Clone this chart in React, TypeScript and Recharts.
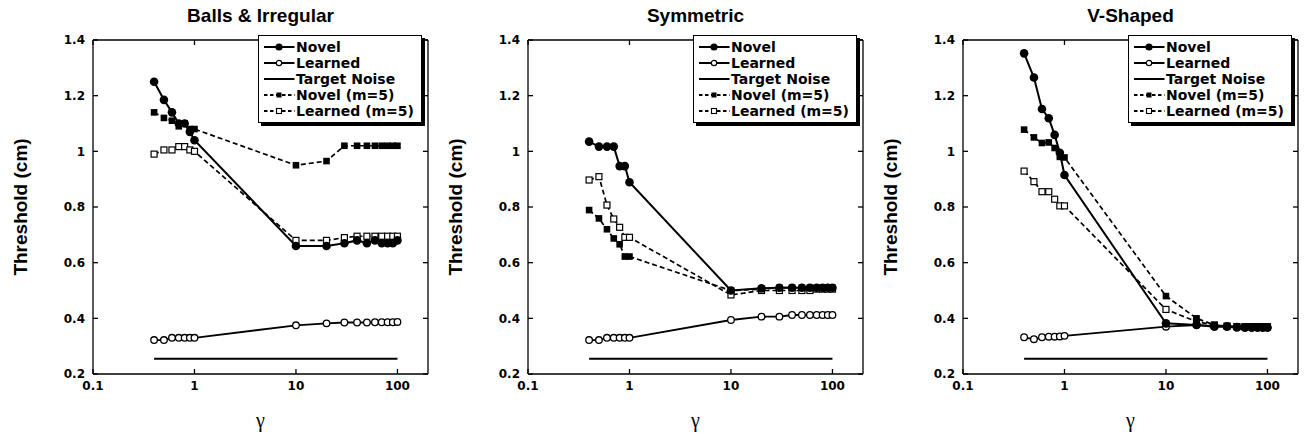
import { LineChart, Line, XAxis, YAxis, Legend } from "recharts"

const FONT = '"Liberation Sans", Arial, Helvetica, sans-serif'
const WIDE = '"DejaVu Sans", Verdana, sans-serif'

// gamma values shared by every panel
const gamma = [0.4, 0.5, 0.6, 0.7, 0.8, 0.9, 1, 10, 20, 30, 40, 50, 60, 70, 80, 90, 100]
const xTicks = [0.1, 1, 10, 100]
const yTicks = [0.2, 0.4, 0.6, 0.8, 1, 1.2, 1.4]
const targetNoise = 0.255

// Balls & Irregular
const ballsNovel = [1.25, 1.185, 1.14, 1.1, 1.1, 1.07, 1.04, 0.66, 0.66, 0.67, 0.68, 0.67, 0.68, 0.67, 0.67, 0.67, 0.68]
const ballsLearned = [0.322, 0.322, 0.33, 0.33, 0.33, 0.33, 0.33, 0.375, 0.382, 0.385, 0.385, 0.385, 0.386, 0.386, 0.386, 0.386, 0.387]
const ballsNovelM5 = [1.14, 1.12, 1.11, 1.09, 1.1, 1.08, 1.08, 0.95, 0.965, 1.02, 1.02, 1.02, 1.02, 1.02, 1.02, 1.02, 1.02]
const ballsLearnedM5 = [0.99, 1.005, 1.005, 1.017, 1.017, 1.005, 1.0, 0.68, 0.68, 0.69, 0.695, 0.695, 0.695, 0.695, 0.695, 0.695, 0.695]

// Symmetric
const symNovel = [1.035, 1.017, 1.017, 1.017, 0.947, 0.947, 0.889, 0.5, 0.508, 0.51, 0.51, 0.51, 0.51, 0.51, 0.51, 0.51, 0.51]
const symLearned = [0.322, 0.322, 0.33, 0.33, 0.33, 0.33, 0.33, 0.394, 0.406, 0.406, 0.412, 0.412, 0.412, 0.412, 0.412, 0.412, 0.412]
const symNovelM5 = [0.789, 0.759, 0.72, 0.687, 0.666, 0.622, 0.622, 0.5, 0.505, 0.51, 0.51, 0.51, 0.51, 0.51, 0.51, 0.51, 0.51]
const symLearnedM5 = [0.897, 0.909, 0.807, 0.757, 0.727, 0.691, 0.691, 0.484, 0.5, 0.5, 0.5, 0.5, 0.5, 0.505, 0.505, 0.505, 0.505]

// V-Shaped
const vNovel = [1.352, 1.265, 1.152, 1.119, 1.059, 0.995, 0.915, 0.382, 0.376, 0.37, 0.37, 0.367, 0.367, 0.367, 0.367, 0.367, 0.367]
const vLearned = [0.332, 0.325, 0.332, 0.334, 0.334, 0.335, 0.337, 0.37, 0.376, 0.372, 0.372, 0.37, 0.366, 0.366, 0.366, 0.366, 0.366]
const vNovelM5 = [1.078, 1.05, 1.03, 1.032, 1.012, 0.98, 0.978, 0.48, 0.4, 0.376, 0.372, 0.37, 0.37, 0.37, 0.37, 0.37, 0.37]
const vLearnedM5 = [0.929, 0.891, 0.855, 0.855, 0.828, 0.804, 0.804, 0.432, 0.388, 0.376, 0.372, 0.37, 0.37, 0.37, 0.37, 0.37, 0.37]

const titles = ["Balls & Irregular", "Symmetric", "V-Shaped"]

function buildRows(novel: number[], learned: number[], novelM5: number[], learnedM5: number[]) {
  return gamma.map((g, i) => ({
    g,
    novel: novel[i],
    learned: learned[i],
    noise: targetNoise,
    novelM5: novelM5[i],
    learnedM5: learnedM5[i],
  }))
}

const panelRows = [
  buildRows(ballsNovel, ballsLearned, ballsNovelM5, ballsLearnedM5),
  buildRows(symNovel, symLearned, symNovelM5, symLearnedM5),
  buildRows(vNovel, vLearned, vNovelM5, vLearnedM5),
]

const filledCircle = (p: any) => <circle key={p.index} cx={p.cx} cy={p.cy} r={4.3} fill="#000" />
const openCircle = (p: any) => (
  <circle key={p.index} cx={p.cx} cy={p.cy} r={3.3} fill="#fff" stroke="#000" strokeWidth={1.3} />
)
const filledSquare = (p: any) => <rect key={p.index} x={p.cx - 3.3} y={p.cy - 3.3} width={6.6} height={6.6} fill="#000" />
const openSquare = (p: any) => (
  <rect key={p.index} x={p.cx - 3} y={p.cy - 3} width={6} height={6} fill="#fff" stroke="#000" strokeWidth={1.2} />
)

const legendItems = [
  { label: "Novel", dash: undefined, marker: "fc" },
  { label: "Learned", dash: undefined, marker: "oc" },
  { label: "Target Noise", dash: undefined, marker: "" },
  { label: "Novel (m=5)", dash: "3.5 2.5", marker: "fs" },
  { label: "Learned (m=5)", dash: "3.5 2.5", marker: "os" },
]

function LegendBox() {
  return (
    <div
      style={{
        width: 164,
        height: 88,
        boxSizing: "border-box",
        border: "1.5px solid #000",
        boxShadow: "3px 3px 0 #000",
        background: "#fff",
        padding: "3px 0 0 4px",
        fontFamily: WIDE,
        fontWeight: 700,
        fontSize: 14,
        color: "#000",
      }}
    >
      {legendItems.map((it) => (
        <div key={it.label} style={{ display: "flex", alignItems: "center", height: 16, whiteSpace: "nowrap" }}>
          <svg width={32} height={12} style={{ flex: "none" }}>
            <line x1={1} y1={6} x2={31.5} y2={6} stroke="#000" strokeWidth={2} strokeDasharray={it.dash} />
            {it.marker === "fc" && <circle cx={16} cy={6} r={3.6} fill="#000" />}
            {it.marker === "oc" && <circle cx={16} cy={6} r={2.7} fill="#fff" stroke="#000" strokeWidth={1.2} />}
            {it.marker === "fs" && <rect x={13.5} y={3.5} width={5} height={5} fill="#000" />}
            {it.marker === "os" && <rect x={13.5} y={3.5} width={5} height={5} fill="#fff" stroke="#000" strokeWidth={1.1} />}
          </svg>
          <span style={{ marginLeft: 1 }}>{it.label}</span>
        </div>
      ))}
    </div>
  )
}

const tickStyle = { fill: "#000", fontSize: 12, fontFamily: WIDE, fontWeight: 700 }

function Panel({ title, rows }: { title: string; rows: any[] }) {
  return (
    <div style={{ position: "relative", width: 435, height: 438 }}>
      <div
        style={{
          position: "absolute",
          left: 93,
          width: 335,
          top: 5,
          textAlign: "center",
          fontFamily: FONT,
          fontWeight: 700,
          fontSize: 19,
          color: "#000",
        }}
      >
        {title}
      </div>
      <LineChart width={435} height={438} data={rows} margin={{ top: 39, right: 6, bottom: 4, left: 5 }}>
        <XAxis
          dataKey="g"
          type="number"
          scale="log"
          domain={[0.1, 200]}
          ticks={xTicks}
          allowDataOverflow
          height={60}
          stroke="#000"
          strokeWidth={1.3}
          tickSize={-5}
          tickMargin={12}
          tick={tickStyle}
          tickFormatter={(v: number) => String(v)}
          label={{
            value: "γ",
            position: "insideBottom",
            offset: 7,
            fill: "#000",
            fontSize: 20,
            fontFamily: '"Liberation Serif", "DejaVu Serif", serif',
          }}
        />
        <XAxis
          xAxisId="top"
          orientation="top"
          dataKey="g"
          type="number"
          scale="log"
          domain={[0.1, 200]}
          ticks={xTicks}
          allowDataOverflow
          height={1}
          stroke="#000"
          strokeWidth={1.3}
          tickSize={-5}
          tick={{ fontSize: 0 }}
          tickFormatter={() => ""}
        />
        <YAxis
          type="number"
          domain={[0.2, 1.4]}
          ticks={yTicks}
          allowDataOverflow
          width={88}
          stroke="#000"
          strokeWidth={1.3}
          tickSize={-5}
          tickMargin={13}
          tick={tickStyle}
          tickFormatter={(v: number) => String(v)}
          label={{
            value: "Threshold (cm)",
            angle: -90,
            position: "insideLeft",
            offset: 15,
            fill: "#000",
            fontSize: 19,
            fontWeight: 700,
            fontFamily: FONT,
            style: { textAnchor: "middle" },
          }}
        />
        <YAxis
          yAxisId="right"
          orientation="right"
          type="number"
          domain={[0.2, 1.4]}
          ticks={yTicks}
          allowDataOverflow
          width={1}
          stroke="#000"
          strokeWidth={1.3}
          tickSize={-5}
          tick={{ fontSize: 0 }}
          tickFormatter={() => ""}
        />
        <Legend
          layout="vertical"
          align="center"
          verticalAlign="middle"
          content={() => <LegendBox />}
          wrapperStyle={{ left: 258, top: 35, width: 168, height: 92 }}
        />
        <Line dataKey="noise" stroke="#000" strokeWidth={2} dot={false} isAnimationActive={false} />
        <Line dataKey="learned" stroke="#000" strokeWidth={1.8} dot={openCircle} isAnimationActive={false} />
        <Line dataKey="learnedM5" stroke="#000" strokeWidth={1.7} strokeDasharray="5 3" dot={openSquare} isAnimationActive={false} />
        <Line dataKey="novelM5" stroke="#000" strokeWidth={1.7} strokeDasharray="5 3" dot={filledSquare} isAnimationActive={false} />
        <Line dataKey="novel" stroke="#000" strokeWidth={2} dot={filledCircle} isAnimationActive={false} />
      </LineChart>
    </div>
  )
}

export default function App() {
  return (
    <div style={{ position: "absolute", left: 0, top: 0, width: 1305, height: 438, display: "flex", background: "#fff" }}>
      {panelRows.map((rows, i) => (
        <Panel key={titles[i]} title={titles[i]} rows={rows} />
      ))}
    </div>
  )
}
